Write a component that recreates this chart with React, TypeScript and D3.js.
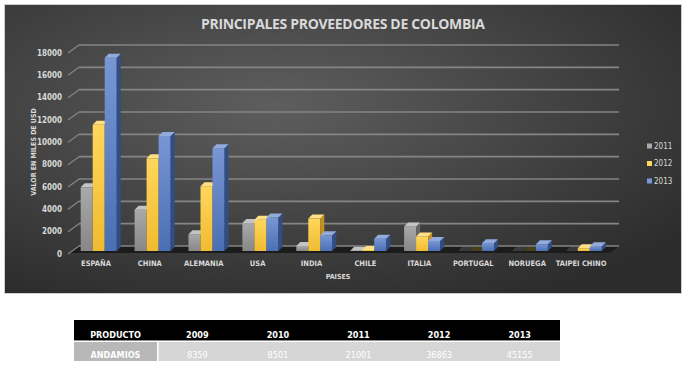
import React from "react";
import * as d3 from "d3";

const countries = ["ESPAÑA", "CHINA", "ALEMANIA", "USA", "INDIA", "CHILE", "ITALIA", "PORTUGAL", "NORUEGA", "TAIPEI CHINO"];
const seriesNames = ["2011", "2012", "2013"];
const values2011 = [5700, 3700, 1500, 2500, 450, 30, 2200, 0, 0, 0];
const values2012 = [11300, 8300, 5800, 2800, 2900, 90, 1300, 0, 0, 250];
const values2013 = [17300, 10300, 9200, 3000, 1400, 1100, 900, 700, 600, 420];
const yTicks = [0, 2000, 4000, 6000, 8000, 10000, 12000, 14000, 16000, 18000];

const tableHeader = ["PRODUCTO", "2009", "2010", "2011", "2012", "2013"];
const productName = "ANDAMIOS";
const productValues = [8359, 8501, 21001, 36863, 45155];

const seriesValues = [values2011, values2012, values2013];
const palette = [
  { top: "#c4c4c4", f1: "#a9a9a9", f2: "#878787", side: "#676767", zero: "#3a3a3a" },
  { top: "#ffe083", f1: "#ffd65c", f2: "#f0bb30", side: "#c39120", zero: "#4a3f1c" },
  { top: "#91abdf", f1: "#7896d4", f2: "#4a6fb4", side: "#304d85", zero: "#2f3a52" },
];

const FONT = "'Liberation Sans Narrow', 'DejaVu Sans Condensed', 'Liberation Sans', sans-serif";

export default function App() {
  const W = 688, H = 378;
  const x = d3.scaleBand<string>().domain(countries).range([69, 608]);
  const xs = d3.scaleBand<string>().domain(seriesNames).range([11.7, 47.7]);
  const yBar = d3.scaleLinear().domain([0, 18000]).range([251, 50]);
  const yBack = d3.scaleLinear().domain([0, 18000]).range([246, 45]);
  const dx = 4, dy = -4;
  const base = yBar(0);

  const tLeft = 74, tRight = 560, firstW = 83;
  const colX = d3.scaleBand<string>().domain(tableHeader.slice(1)).range([tLeft + firstW, tRight]);

  const bars: React.ReactNode[] = [];
  countries.forEach((c, ci) => {
    seriesNames.forEach((s, si) => {
      const v = seriesValues[si][ci];
      const p = palette[si];
      const bx = (x(c) as number) + (xs(s) as number);
      const w = xs.bandwidth();
      const yt = yBar(v);
      const key = `${ci}-${si}`;
      if (v <= 0) {
        bars.push(
          <polygon key={key} fill={p.zero}
            points={`${bx},${base} ${bx + dx},${base + dy} ${bx + w + dx},${base + dy} ${bx + w},${base}`} />
        );
        return;
      }
      bars.push(
        <g key={key}>
          <rect x={bx} y={yt} width={w} height={base - yt} fill={`url(#grad${si})`} />
          <polygon fill={p.side}
            points={`${bx + w},${yt} ${bx + w + dx},${yt + dy} ${bx + w + dx},${base + dy} ${bx + w},${base}`} />
          <polygon fill={p.top}
            points={`${bx},${yt} ${bx + dx},${yt + dy} ${bx + w + dx},${yt + dy} ${bx + w},${yt}`} />
        </g>
      );
    });
  });

  return (
    <svg width={W} height={H} style={{ position: "absolute", left: 0, top: 0 }} fontFamily={FONT}>
      <defs>
        <radialGradient id="bg" cx="40%" cy="35%" r="75%">
          <stop offset="0%" stopColor="#5e5e5e" />
          <stop offset="100%" stopColor="#2c2c2c" />
        </radialGradient>
        {palette.map((p, i) => (
          <linearGradient key={i} id={`grad${i}`} x1="0" y1="0" x2="0" y2="1">
            <stop offset="0%" stopColor={p.f1} />
            <stop offset="100%" stopColor={p.f2} />
          </linearGradient>
        ))}
      </defs>
      <rect x={0} y={0} width={W} height={H} fill="#ffffff" />
      <rect x={4.5} y={4.5} width={677} height={289} fill="url(#bg)" stroke="#cfcfcf" strokeWidth={1} />

      <text x={343} y={29} textAnchor="middle" fill="#d9d9d9" fontSize={14} fontWeight="bold"
        fontFamily="'Open Sans', 'Liberation Sans', sans-serif" textLength={284} lengthAdjust="spacing">
        PRINCIPALES PROVEEDORES DE COLOMBIA
      </text>

      <polygon points={`68,253 610,253 619,246 79,246`} fill="#1c1c1c" />

      {yTicks.map((t) => (
        <g key={t}>
          <line x1={68} y1={yBack(t) + 8} x2={79} y2={yBack(t)} stroke="#858585" strokeWidth={1.2} />
          <line x1={79} y1={yBack(t)} x2={619} y2={yBack(t)} stroke="#858585" strokeWidth={1.6} />
          <text x={62} y={yBack(t) + 8} dy="0.35em" textAnchor="end" fill="#d9d9d9" fontSize={8} fontWeight="bold">
            {t}
          </text>
        </g>
      ))}

      {bars}

      {countries.map((c) => (
        <text key={c} x={(x(c) as number) + x.bandwidth() / 2} y={266} textAnchor="middle" fill="#d9d9d9"
          fontSize={7.5} fontWeight="bold">
          {c}
        </text>
      ))}

      <text x={338} y={279} textAnchor="middle" fill="#d9d9d9" fontSize={7} fontWeight="bold">PAISES</text>
      <text transform="translate(36,152) rotate(-90)" textAnchor="middle" fill="#d9d9d9" fontSize={7}
        fontWeight="bold">VALOR EN MILES DE USD</text>

      {seriesNames.map((s, i) => (
        <g key={s}>
          <rect x={647} y={143.5 + i * 17.5} width={5} height={5} fill={palette[i].f1} />
          <text x={654} y={146 + i * 17.5} dy="0.35em" fill="#d9d9d9" fontSize={8}>{s}</text>
        </g>
      ))}

      <rect x={tLeft} y={320} width={tRight - tLeft} height={20} fill="#000000" />
      <line x1={tLeft} x2={tRight} y1={340.5} y2={340.5} stroke="#8c8c8c" strokeWidth={1} />
      <rect x={tLeft} y={342} width={firstW} height={19} fill="#b8b8b8" />
      <rect x={tLeft + firstW + 1.5} y={342} width={tRight - tLeft - firstW - 1.5} height={19} fill="#d6d6d6" />
      <text x={tLeft + firstW / 2} y={338} textAnchor="middle" fill="#ffffff" fontSize={9} fontWeight="bold">
        {tableHeader[0]}
      </text>
      {tableHeader.slice(1).map((h) => (
        <text key={h} x={(colX(h) as number) + colX.bandwidth() / 2} y={338} textAnchor="middle" fill="#ffffff"
          fontSize={9} fontWeight="bold">{h}</text>
      ))}
      <text x={tLeft + firstW / 2} y={358} textAnchor="middle" fill="#ffffff" fontSize={9} fontWeight="bold">
        {productName}
      </text>
      {productValues.map((v, i) => (
        <text key={i} x={(colX(tableHeader[i + 1]) as number) + colX.bandwidth() / 2} y={358} textAnchor="middle"
          fill="#ffffff" fontSize={9}>{v}</text>
      ))}
    </svg>
  );
}
